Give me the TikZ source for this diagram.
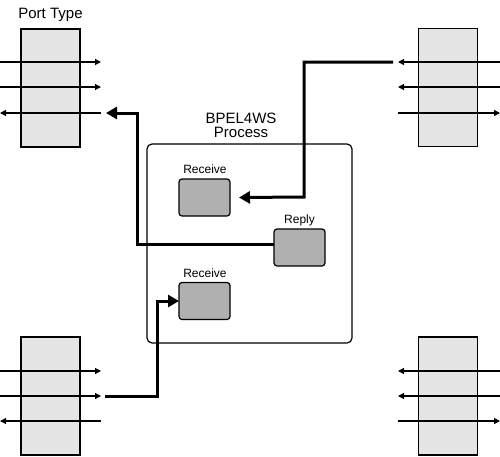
\documentclass[tikz,border=0pt]{standalone}
\usepackage{fontspec}
\setmainfont{Liberation Sans}
\usetikzlibrary{arrows.meta}
\begin{document}
\begin{tikzpicture}[x=1pt,y=-1pt,
  port/.style={draw,line width=1.2pt,fill=black!10,minimum width=59pt,minimum height=118pt,inner sep=0pt,outer sep=0pt},
  act/.style={draw,line width=1.2pt,fill=black!31,rounded corners=3pt,minimum width=51pt,minimum height=37pt,inner sep=0pt,outer sep=0pt},
  proc/.style={draw,line width=1.2pt,rounded corners=5pt,minimum width=205pt,minimum height=199pt,inner sep=0pt,outer sep=0pt},
  lbl/.style={font=\fontsize{12}{13}\selectfont,inner sep=0pt,anchor=base},
  big/.style={font=\fontsize{15}{16}\selectfont,inner sep=0pt,anchor=base},
  thin/.style={line width=1.2pt,-{Triangle[length=6pt,width=6pt]}},
  thick/.style={line width=3pt,-{Triangle[length=11pt,width=12pt]}}]
\useasboundingbox (0,0) rectangle (500,456);
% port boxes
\node[port] (ptl) at (50.5,88) {};
\node[port] (ptr) at (448,87.5) {};
\node[port] (pbl) at (50.5,396) {};
\node[port] (pbr) at (448,396) {};
\node[big] (pt) at (50.5,18) {Port Type};
% process
\node[proc] (proc) at (249.5,243.5) {};
\node[big] (ptitle1) at (241,123) {BPEL4WS};
\node[big] (ptitle2) at (241,137.5) {Process};
\node[act] (r1) at (204.5,197.5) {};
\node[act] (rep) at (299.5,247.5) {};
\node[act] (r2) at (204.5,301) {};
\node[lbl] (lr1) at (205,173) {Receive};
\node[lbl] (lrep) at (299.5,223.5) {Reply};
\node[lbl] (lr2) at (205,277) {Receive};
% thin arrows coordinates
\foreach \n/\y in {a/62,b/87,c/113}{
  \coordinate (tl\n w) at (0,\y); \coordinate (tl\n e) at (101,\y);
  \coordinate (tr\n w) at (398,\y); \coordinate (tr\n e) at (500,\y);
}
\foreach \n/\y in {a/371,b/396,c/421}{
  \coordinate (bl\n w) at (0,\y); \coordinate (bl\n e) at (101,\y);
  \coordinate (br\n w) at (398,\y); \coordinate (br\n e) at (500,\y);
}
\draw[thin] (tlaw) -- (tlae);
\draw[thin] (tlbw) -- (tlbe);
\draw[thin] (tlce) -- (tlcw);
\draw[thin] (trae) -- (traw);
\draw[thin] (trbe) -- (trbw);
\draw[thin] (trcw) -- (trce);
\draw[thin] (blaw) -- (blae);
\draw[thin] (blbw) -- (blbe);
\draw[thin] (blce) -- (blcw);
\draw[thin] (brae) -- (braw);
\draw[thin] (brbe) -- (brbw);
\draw[thin] (brcw) -- (brce);
% thick connectors
\coordinate (s1) at (393,62);
\coordinate (s3) at (105,396);
\coordinate (t2) at (106,113);
\draw[thick] (s1) -| (304,197) -- (r1.east -| 239,0) ;
\draw[thick] (rep.west |- 0,244) -| (137,113) -- (t2);
\draw[thick] (s3) -| (157,301) -- (r2.west);
\end{tikzpicture}
\end{document}
